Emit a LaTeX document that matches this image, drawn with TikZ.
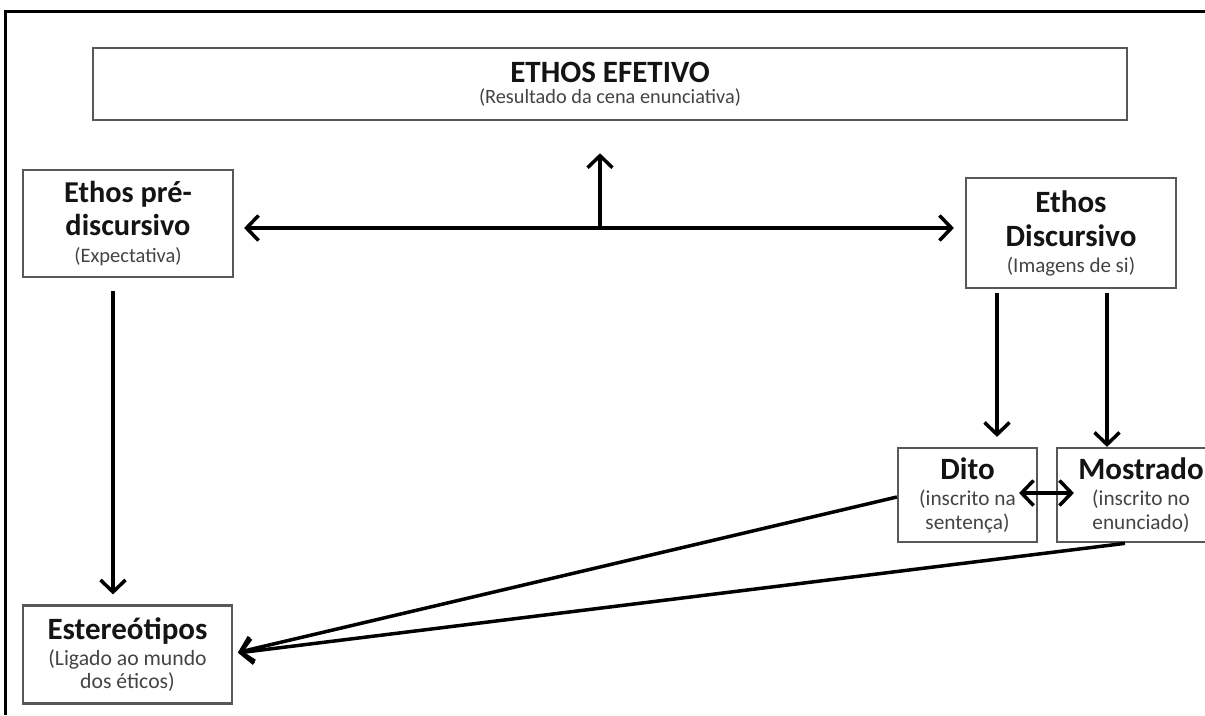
\documentclass[tikz,border=0pt]{standalone}
\usepackage{fontspec}
\setmainfont{Carlito}
\usetikzlibrary{arrows.meta,calc}
\definecolor{boxline}{HTML}{585858}
\definecolor{subtext}{HTML}{444444}
\definecolor{headtext}{HTML}{141414}
% lines of a box are stacked by their struts only
\newcommand{\boxsetup}{\fontsize{20pt}{0pt}\selectfont\lineskip=0pt\relax\lineskiplimit=0pt\relax}
% one line of a box: bold heading or grey remark, each with a fixed-height strut
\newcommand{\hd}[2][31]{\fontsize{#1pt}{0pt}\selectfont\bfseries\color{headtext}\rule[-9pt]{0pt}{33pt}#2}
\newcommand{\nt}[2][21.3]{\fontsize{#1pt}{0pt}\selectfont\color{subtext}\rule[-6pt]{0pt}{23pt}#2}
\begin{document}
\begin{tikzpicture}[x=1pt,y=-1pt,
  box/.style={draw=boxline, line width=2.2pt, fill=white, align=center, inner sep=0pt,
    font=\boxsetup},
  tip/.tip={Straight Barb[length=12pt,width=25pt]},
  arr/.style={line width=3.5pt, -tip},
  darr/.style={line width=3.5pt, tip-tip}]
\useasboundingbox (0,0) rectangle (1205,715);
\clip (0,0) rectangle (1205,715);

% frame
\draw[line width=3pt] (5,715) -- (5,11) -- (1206,11);

% boxes
\node[box, line width=2.6pt, minimum width=1034pt, minimum height=72pt] (top) at (610,84)
  {\hd{ETHOS EFETIVO}\\[-4.5pt] \nt[20.3]{(Resultado da cena enunciativa)}};
\node[box, minimum width=210pt, minimum height=107pt] (pre) at (128,223.5)
  {\hd[30.3]{Ethos pré-}\\ \hd[30.3]{discursivo}\\[0.7pt] \nt[20.5]{(Expectativa)}};
\node[box, minimum width=210pt, minimum height=110pt] (disc) at (1071,233)
  {\hd{Ethos}\\[1pt] \hd{Discursivo}\\ \nt[21]{(Imagens de si)}};
\node[box, minimum width=209pt, minimum height=98pt] (est) at (127.5,654.5)
  {\hd{Estereótipos}\\ \nt[21.7]{(Ligado ao mundo}\\ \nt[21.7]{dos éticos)}};
\node[box, minimum width=139pt, minimum height=94pt] (dito) at (967.5,495)
  {\hd{Dito}\\ \nt{(inscrito na}\\[1pt] \nt{sentença)}};
\node[box, minimum width=168pt, minimum height=94pt] (most) at (1141,495)
  {\hd{Mostrado}\\ \nt{(inscrito no}\\[1pt] \nt{enunciado)}};

% connectors
\coordinate (hmid) at (600,228);
\draw[darr, shorten <=10pt, shorten >=11pt] (pre.east |- hmid) -- (disc.west |- hmid);
\draw[arr, shorten >=32pt] (hmid) -- (hmid |- top.south);
\draw[arr, shorten <=13pt, shorten >=10pt] ([xshift=-15pt]pre.south) -- ([xshift=-14.5pt]est.north);
\draw[arr, shorten <=4pt, shorten >=10pt] ([xshift=-74pt]disc.south) -- ([xshift=29.5pt]dito.north);
\draw[arr, shorten <=4pt] ([xshift=36pt]disc.south) -- ([xshift=-34pt]most.north);
\draw[darr, shorten <=-19pt, shorten >=-18pt] ([yshift=2pt]dito.east) -- ([yshift=2pt]most.west);
\draw[arr, shorten >=5pt] ([yshift=-2pt]dito.west) -- ([yshift=1pt]est.east);
\draw[arr, shorten <=2pt, shorten >=5pt] ([xshift=-14pt]most.south) -- ([yshift=1pt]est.east);
\end{tikzpicture}
\end{document}
